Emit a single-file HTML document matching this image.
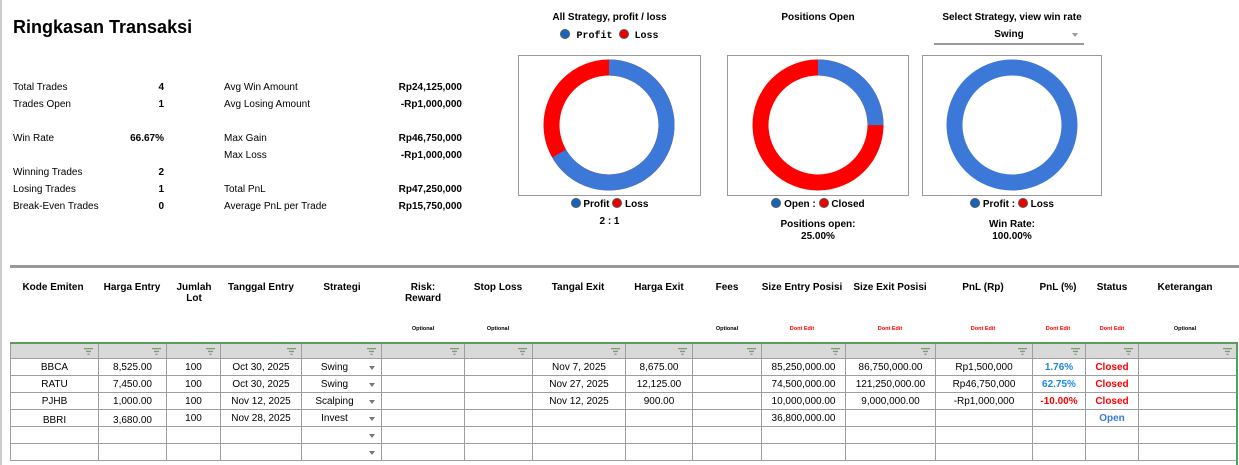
<!DOCTYPE html>
<html><head><meta charset="utf-8"><style>
*{margin:0;padding:0;box-sizing:border-box}
body{width:1239px;height:465px;background:#fff;position:relative;overflow:hidden;font-family:"Liberation Sans",Arial,sans-serif;color:#000;font-size:10px}
.a{position:absolute;white-space:nowrap}
.b{font-weight:bold}
.r{text-align:right}
.c{text-align:center}
.h{position:absolute;top:282px;font-weight:bold;font-size:10px;text-align:center;line-height:11px;transform:translateX(-50%);white-space:nowrap}
.s{position:absolute;top:326px;font-size:5.5px;font-weight:bold;transform:translateX(-50%);white-space:nowrap}
.red{color:#f00}
table{position:absolute;left:10px;top:343px;border-collapse:collapse;table-layout:fixed;width:1227px}
td{border:1px solid #9e9e9e;height:17px;font-size:10px;text-align:center;padding:0;position:relative}
tr.f td{background:#d9d9d9;height:15px}
.fi{position:absolute;right:5px;top:4px;width:9px;height:7px}
.dd{position:absolute;right:6px;top:7px;width:0;height:0;border-left:3px solid transparent;border-right:3px solid transparent;border-top:4px solid #777}
.st{padding-right:14px}
.box{position:absolute;top:55px;height:141px;border:1px solid #999}
.dot{display:inline-block;width:10px;height:10px;border-radius:50%;vertical-align:-1px;border:1px solid #555}
</style></head><body>
<div class="a" style="left:0;top:0;width:2px;height:465px;background:#ccc"></div>
<div class="a b" style="left:13px;top:17px;font-size:18px">Ringkasan Transaksi</div>

<div class="a" style="left:13px;top:79px;line-height:17px">Total Trades<br>Trades Open<br><br>Win Rate<br><br>Winning Trades<br>Losing Trades<br>Break-Even Trades</div>
<div class="a b r" style="left:100px;width:64px;top:79px;line-height:17px">4<br>1<br><br>66.67%<br><br>2<br>1<br>0</div>
<div class="a" style="left:224px;top:79px;line-height:17px">Avg Win Amount<br>Avg Losing Amount<br><br>Max Gain<br>Max Loss<br><br>Total PnL<br>Average PnL per Trade</div>
<div class="a b r" style="left:340px;width:122px;top:79px;line-height:17px">Rp24,125,000<br>-Rp1,000,000<br><br>Rp46,750,000<br>-Rp1,000,000<br><br>Rp47,250,000<br>Rp15,750,000</div>

<div class="a b c" style="left:518px;width:183px;top:12px">All Strategy, profit / loss</div>
<div class="a b c" style="left:518px;width:183px;top:29px;font-family:'Liberation Mono',monospace"><span class="dot" style="background:#1565c0"></span> Profit <span class="dot" style="background:#e00"></span> Loss</div>
<div class="box" style="left:518px;width:183px"></div>
<div class="a b c" style="left:518px;width:183px;top:198px"><span class="dot" style="background:#1565c0"></span> Profit <span class="dot" style="background:#e00"></span> Loss</div>
<div class="a b c" style="left:518px;width:183px;top:216px">2 : 1</div>

<div class="a b c" style="left:727px;width:182px;top:12px">Positions Open</div>
<div class="box" style="left:727px;width:182px"></div>
<div class="a b c" style="left:727px;width:182px;top:198px"><span class="dot" style="background:#1565c0"></span> Open : <span class="dot" style="background:#e00"></span> Closed</div>
<div class="a b c" style="left:727px;width:182px;top:219px;line-height:12px">Positions open:<br>25.00%</div>

<div class="a b c" style="left:922px;width:180px;top:12px">Select Strategy, view win rate</div>
<div class="a b c" style="left:934px;width:150px;top:29px">Swing</div>
<div class="a" style="left:1072px;top:33px;border-left:3px solid transparent;border-right:3px solid transparent;border-top:4px solid #999"></div>
<div class="a" style="left:934px;top:43px;width:150px;height:2px;background:#999"></div>
<div class="box" style="left:922px;width:180px"></div>
<div class="a b c" style="left:922px;width:180px;top:198px"><span class="dot" style="background:#1565c0"></span> Profit : <span class="dot" style="background:#e00"></span> Loss</div>
<div class="a b c" style="left:922px;width:180px;top:219px;line-height:12px">Win Rate:<br>100.00%</div>

<svg class="a" style="left:0;top:0" width="1239" height="260">
<g fill="none" stroke-width="16">
<circle cx="609" cy="125" r="57.5" stroke="#f00"/>
<circle cx="609" cy="125" r="57.5" stroke="#3c78d8" stroke-dasharray="240.85 400" transform="rotate(-90 609 125)"/>
<circle cx="818" cy="125" r="57.5" stroke="#f00"/>
<circle cx="818" cy="125" r="57.5" stroke="#3c78d8" stroke-dasharray="90.32 400" transform="rotate(-90 818 125)"/>
<circle cx="1012" cy="125" r="57.5" stroke="#3c78d8"/>
</g></svg>

<div class="a" style="left:10px;top:265px;width:1229px;height:3px;background:#999"></div>

<div class="h" style="left:53px">Kode Emiten</div>
<div class="h" style="left:132px">Harga Entry</div>
<div class="h" style="left:194px">Jumlah<br>Lot</div>
<div class="h" style="left:261px">Tanggal Entry</div>
<div class="h" style="left:342px">Strategi</div>
<div class="h" style="left:423px">Risk:<br>Reward</div>
<div class="h" style="left:498px">Stop Loss</div>
<div class="h" style="left:578px">Tangal Exit</div>
<div class="h" style="left:659px">Harga Exit</div>
<div class="h" style="left:727px">Fees</div>
<div class="h" style="left:802px">Size Entry Posisi</div>
<div class="h" style="left:890px">Size Exit Posisi</div>
<div class="h" style="left:983px">PnL (Rp)</div>
<div class="h" style="left:1058px">PnL (%)</div>
<div class="h" style="left:1112px">Status</div>
<div class="h" style="left:1185px">Keterangan</div>

<div class="s" style="left:423px">Optional</div>
<div class="s" style="left:498px">Optional</div>
<div class="s" style="left:727px">Optional</div>
<div class="s red" style="left:802px">Dont Edit</div>
<div class="s red" style="left:890px">Dont Edit</div>
<div class="s red" style="left:983px">Dont Edit</div>
<div class="s red" style="left:1058px">Dont Edit</div>
<div class="s red" style="left:1112px">Dont Edit</div>
<div class="s" style="left:1185px">Optional</div>

<table>
<colgroup><col style="width:88px"><col style="width:68px"><col style="width:54px"><col style="width:81px"><col style="width:80px"><col style="width:83px"><col style="width:68px"><col style="width:93px"><col style="width:67px"><col style="width:69px"><col style="width:84px"><col style="width:90px"><col style="width:97px"><col style="width:53px"><col style="width:53px"><col style="width:99px"></colgroup>
<tr class="f"><td><svg class="fi" viewBox="0 0 9 7"><path d="M0 0h9v1.3H0zM2 2.8h5v1.3H2zM3.5 5.6h2V7h-2z" fill="#7a9a7a"/></svg></td><td><svg class="fi" viewBox="0 0 9 7"><path d="M0 0h9v1.3H0zM2 2.8h5v1.3H2zM3.5 5.6h2V7h-2z" fill="#7a9a7a"/></svg></td><td><svg class="fi" viewBox="0 0 9 7"><path d="M0 0h9v1.3H0zM2 2.8h5v1.3H2zM3.5 5.6h2V7h-2z" fill="#7a9a7a"/></svg></td><td><svg class="fi" viewBox="0 0 9 7"><path d="M0 0h9v1.3H0zM2 2.8h5v1.3H2zM3.5 5.6h2V7h-2z" fill="#7a9a7a"/></svg></td><td><svg class="fi" viewBox="0 0 9 7"><path d="M0 0h9v1.3H0zM2 2.8h5v1.3H2zM3.5 5.6h2V7h-2z" fill="#7a9a7a"/></svg></td><td><svg class="fi" viewBox="0 0 9 7"><path d="M0 0h9v1.3H0zM2 2.8h5v1.3H2zM3.5 5.6h2V7h-2z" fill="#7a9a7a"/></svg></td><td><svg class="fi" viewBox="0 0 9 7"><path d="M0 0h9v1.3H0zM2 2.8h5v1.3H2zM3.5 5.6h2V7h-2z" fill="#7a9a7a"/></svg></td><td><svg class="fi" viewBox="0 0 9 7"><path d="M0 0h9v1.3H0zM2 2.8h5v1.3H2zM3.5 5.6h2V7h-2z" fill="#7a9a7a"/></svg></td><td><svg class="fi" viewBox="0 0 9 7"><path d="M0 0h9v1.3H0zM2 2.8h5v1.3H2zM3.5 5.6h2V7h-2z" fill="#7a9a7a"/></svg></td><td><svg class="fi" viewBox="0 0 9 7"><path d="M0 0h9v1.3H0zM2 2.8h5v1.3H2zM3.5 5.6h2V7h-2z" fill="#7a9a7a"/></svg></td><td><svg class="fi" viewBox="0 0 9 7"><path d="M0 0h9v1.3H0zM2 2.8h5v1.3H2zM3.5 5.6h2V7h-2z" fill="#7a9a7a"/></svg></td><td><svg class="fi" viewBox="0 0 9 7"><path d="M0 0h9v1.3H0zM2 2.8h5v1.3H2zM3.5 5.6h2V7h-2z" fill="#7a9a7a"/></svg></td><td><svg class="fi" viewBox="0 0 9 7"><path d="M0 0h9v1.3H0zM2 2.8h5v1.3H2zM3.5 5.6h2V7h-2z" fill="#7a9a7a"/></svg></td><td><svg class="fi" viewBox="0 0 9 7"><path d="M0 0h9v1.3H0zM2 2.8h5v1.3H2zM3.5 5.6h2V7h-2z" fill="#7a9a7a"/></svg></td><td><svg class="fi" viewBox="0 0 9 7"><path d="M0 0h9v1.3H0zM2 2.8h5v1.3H2zM3.5 5.6h2V7h-2z" fill="#7a9a7a"/></svg></td><td><svg class="fi" viewBox="0 0 9 7"><path d="M0 0h9v1.3H0zM2 2.8h5v1.3H2zM3.5 5.6h2V7h-2z" fill="#7a9a7a"/></svg></td></tr>
<tr><td>BBCA</td><td>8,525.00</td><td>100</td><td>Oct 30, 2025</td><td class="st">Swing<span class="dd"></span></td><td></td><td></td><td>Nov 7, 2025</td><td>8,675.00</td><td></td><td>85,250,000.00</td><td>86,750,000.00</td><td>Rp1,500,000</td><td class="b" style="color:#1e88d8">1.76%</td><td class="b red">Closed</td><td></td></tr>
<tr><td>RATU</td><td>7,450.00</td><td>100</td><td>Oct 30, 2025</td><td class="st">Swing<span class="dd"></span></td><td></td><td></td><td>Nov 27, 2025</td><td>12,125.00</td><td></td><td>74,500,000.00</td><td>121,250,000.00</td><td>Rp46,750,000</td><td class="b" style="color:#1e88d8">62.75%</td><td class="b red">Closed</td><td></td></tr>
<tr><td>PJHB</td><td>1,000.00</td><td>100</td><td>Nov 12, 2025</td><td class="st">Scalping<span class="dd"></span></td><td></td><td></td><td>Nov 12, 2025</td><td>900.00</td><td></td><td>10,000,000.00</td><td>9,000,000.00</td><td>-Rp1,000,000</td><td class="b red">-10.00%</td><td class="b red">Closed</td><td></td></tr>
<tr><td style="padding-top:4px">BBRI</td><td style="padding-top:4px">3,680.00</td><td>100</td><td>Nov 28, 2025</td><td class="st">Invest<span class="dd"></span></td><td></td><td></td><td></td><td></td><td></td><td>36,800,000.00</td><td></td><td></td><td></td><td class="b" style="color:#3c78d8">Open</td><td></td></tr>
<tr><td></td><td></td><td></td><td></td><td><span class="dd"></span></td><td></td><td></td><td></td><td></td><td></td><td></td><td></td><td></td><td></td><td></td><td></td></tr>
<tr><td></td><td></td><td></td><td></td><td><span class="dd"></span></td><td></td><td></td><td></td><td></td><td></td><td></td><td></td><td></td><td></td><td></td><td></td></tr>
</table>
<div class="a" style="left:10px;top:342px;width:1227px;height:2px;background:#5a9e5a"></div>
<div class="a" style="left:1236px;top:342px;width:2px;height:123px;background:#5a9e5a"></div>
</body></html>
